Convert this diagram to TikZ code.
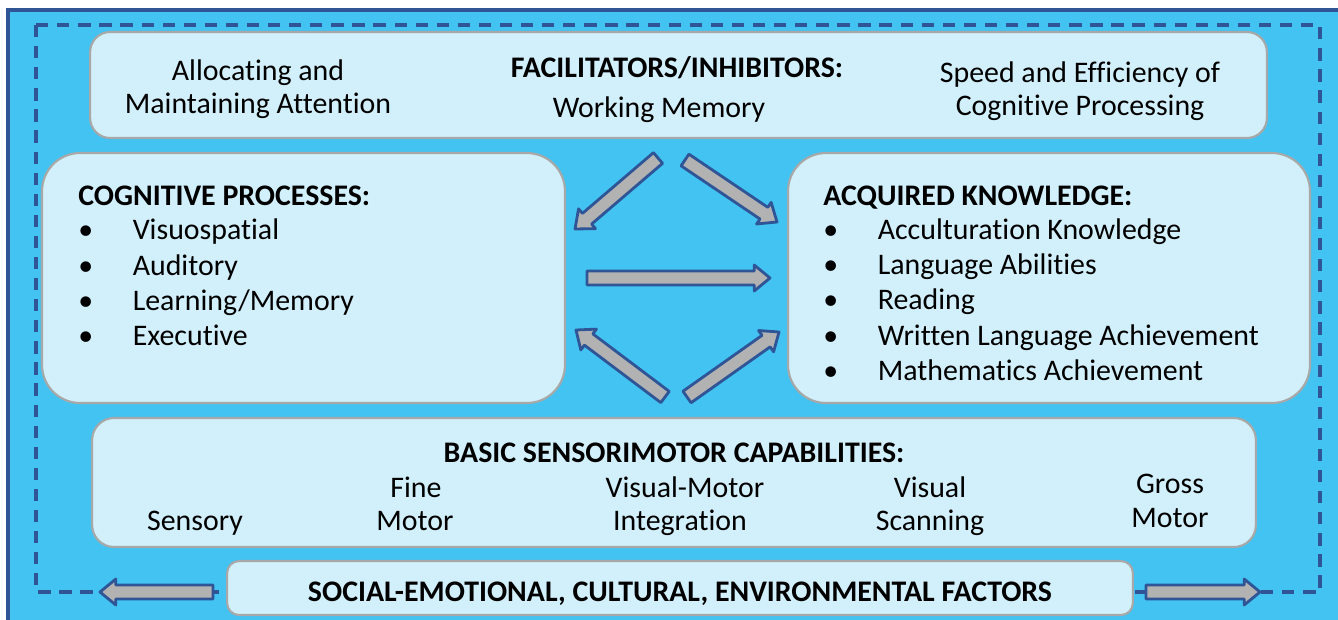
\documentclass[tikz,border=0pt]{standalone}
\usepackage{fontspec}
\setmainfont{Carlito}[Ligatures=NoCommon]
\usetikzlibrary{calc}

\definecolor{skyfill}{HTML}{42C3F1}
\definecolor{navy}{HTML}{2F5597}
\definecolor{boxfill}{HTML}{D2F0FB}
\definecolor{boxline}{HTML}{A8A8A8}
\definecolor{arrowfill}{HTML}{B2B2B2}

\tikzset{
  box/.style={draw=boxline,line width=1.2pt,fill=boxfill,inner sep=0pt},
  label/.style={anchor=base,inner sep=0pt},
  listitem/.style={anchor=base west,inner sep=0pt},
  blockarrow/.style={draw=navy,line width=1.6pt,fill=arrowfill,line join=round}
}

% block arrow from #1 (tail) to #2 (tip)
\newcommand\blockarrow[2]{%
  \coordinate (#1-n) at ($(#2)!9pt!(#1)$);
  \draw[blockarrow] ($(#1)!4pt!90:(#2)$) -- ($(#1-n)!4pt!90:(#2)$)
    -- ($(#1-n)!7.4pt!90:(#2)$) -- (#2) -- ($(#1-n)!7.4pt!-90:(#2)$)
    -- ($(#1-n)!4pt!-90:(#2)$) -- ($(#1)!4pt!-90:(#2)$) -- cycle;
}

\begin{document}
\begin{tikzpicture}
  [x=0.02cm,y=-0.02cm,font=\fontsize{17}{20}\selectfont]
  \useasboundingbox (0,0) rectangle (1338,619);
  \clip (0,0) rectangle (1338,619);

  % background frame
  \draw[navy,line width=2pt,fill=skyfill] (8,10) rectangle (1360,640);
  \draw[navy,line width=2.2pt,dash pattern=on 7pt off 5pt] (36,25) rectangle (1320,592);

  % boxes
  \node[box,rounded corners=0.4cm,minimum width=23.54cm,minimum height=2.12cm] (facil) at (678.5,85) {};
  \node[box,rounded corners=0.76cm,minimum width=10.46cm,minimum height=5cm] (cogn) at (303.5,278) {};
  \node[box,rounded corners=0.76cm,minimum width=10.44cm,minimum height=5cm] (acq) at (1049,278) {};
  \node[box,rounded corners=0.44cm,minimum width=23.28cm,minimum height=2.58cm] (basic) at (674,482.5) {};
  \node[box,rounded corners=0.24cm,minimum width=18.12cm,minimum height=1.08cm] (social) at (680,588) {};

  % facilitators / inhibitors
  \node[label] (attn1) at (258,80) {Allocating and};
  \node[label] (attn2) at (258,113) {Maintaining Attention};
  \node[label] (facilhead) at (677,77) {\bfseries FACILITATORS/INHIBITORS:};
  \node[label] (wm) at (659,117) {Working Memory};
  \node[label] (speed1) at (1080,82) {Speed and Efficiency of};
  \node[label] (speed2) at (1080,115) {Cognitive Processing};

  % cognitive processes
  \node[listitem] (cognhead) at (78,205) {\bfseries COGNITIVE PROCESSES:};
  \foreach \y/\txt [count=\i] in {239/Visuospatial,275/Auditory,310/Learning\slash Memory,345/Executive}
    \node[listitem] (cogn\i) at (78,\y) {\makebox[31pt][l]{\textbullet}\txt};

  % acquired knowledge
  \node[listitem] (acqhead) at (823,205) {\bfseries ACQUIRED KNOWLEDGE:};
  \foreach \y/\txt [count=\i] in {239/Acculturation Knowledge,274/Language Abilities,309/Reading,345/Written Language Achievement,380/Mathematics Achievement}
    \node[listitem] (acq\i) at (823,\y) {\makebox[31pt][l]{\textbullet}\txt};

  % basic sensorimotor capabilities
  \node[label] (basichead) at (674,462) {\bfseries BASIC SENSORIMOTOR CAPABILITIES:};
  \node[label] (sens) at (195,530) {Sensory};
  \node[label] (fine1) at (416,497) {Fine};
  \node[label] (fine2) at (415,530) {Motor};
  \node[label] (vm1) at (685,497) {Visual-Motor};
  \node[label] (vm2) at (680,530) {Integration};
  \node[label] (scan1) at (930,497) {Visual};
  \node[label] (scan2) at (930,530) {Scanning};
  \node[label] (gross1) at (1170,493) {Gross};
  \node[label] (gross2) at (1170,527) {Motor};

  % social factors
  \node[label] (socialtxt) at (680,601) {\bfseries SOCIAL-EMOTIONAL, CULTURAL, ENVIRONMENTAL FACTORS};

  % arrows
  \coordinate (a1) at (658,158); \coordinate (b1) at (575,229);
  \coordinate (a2) at (685,160); \coordinate (b2) at (777,222);
  \coordinate (a3) at (587,278); \coordinate (b3) at (770,278);
  \coordinate (a4) at (665,397); \coordinate (b4) at (576,330);
  \coordinate (a5) at (687,397); \coordinate (b5) at (779,332);
  \coordinate (a6) at (213,592); \coordinate (b6) at (100,592);
  \coordinate (a7) at (1146,592); \coordinate (b7) at (1260,592);
  \blockarrow{a1}{b1}
  \blockarrow{a2}{b2}
  \blockarrow{a3}{b3}
  \blockarrow{a4}{b4}
  \blockarrow{a5}{b5}
  \blockarrow{a6}{b6}
  \blockarrow{a7}{b7}

\end{tikzpicture}
\end{document}
